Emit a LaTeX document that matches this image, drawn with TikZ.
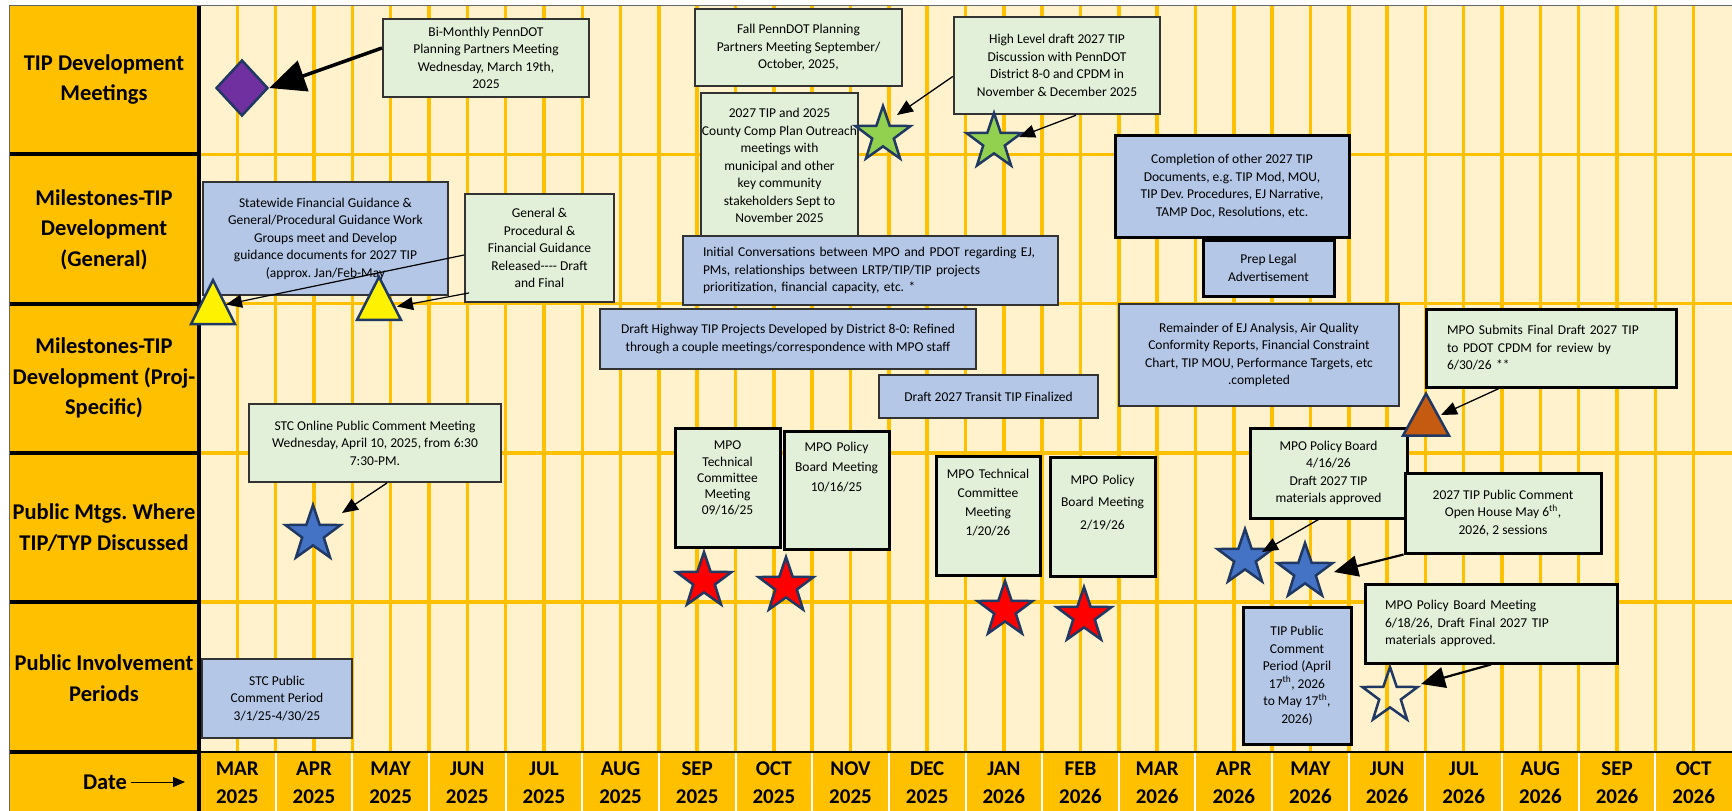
\documentclass[tikz,border=0pt]{standalone}
\usepackage{fontspec}
\setmainfont{Carlito}
\usetikzlibrary{arrows.meta,shapes.geometric}
\frenchspacing

\definecolor{gridgold}{HTML}{FFC000}
\definecolor{cream}{HTML}{FFF2CC}
\definecolor{notegreen}{HTML}{E2F0D9}
\definecolor{noteblue}{HTML}{B4C7E7}
\definecolor{markedge}{HTML}{203864}
\definecolor{purplemark}{HTML}{7030A0}
\definecolor{greenmark}{HTML}{92D050}
\definecolor{bluemark}{HTML}{4472C4}
\definecolor{redmark}{HTML}{FF0000}
\definecolor{rustmark}{HTML}{C55A11}

\tikzset{
  gridline/.style = {
    draw=gridgold,
    line width=3.5pt
  },
  rowlabel/.style = {
    align=center,
    font={\fontsize{22.5}{30.5}\selectfont\bfseries}
  },
  monthlabel/.style = {
    align=center,
    font={\fontsize{21}{28}\selectfont\bfseries}
  },
  note/.style = {
    draw=black!80,
    line width=1.5pt,
    inner sep=2pt,
    align=center,
    font={\fontsize{13.5}{17.5}\selectfont}
  },
  greennote/.style = {note, fill=notegreen},
  bluenote/.style = {note, fill=noteblue},
  heavy/.style = {
    draw=black,
    line width=3pt
  },
  chartmark/.style = {
    draw=markedge,
    line width=2.5pt,
    inner sep=0pt
  },
  starmark/.style = {
    chartmark, star, star points=5, star point ratio=2.55,
    minimum size=58pt
  },
  trimark/.style = {
    chartmark, isosceles triangle, isosceles triangle stretches,
    shape border rotate=90
  },
  pointer/.style = {
    draw=black,
    line width=1.3pt,
    -{Triangle[length=16pt,width=13pt]}
  },
  bigpointer/.style = {
    draw=black,
    line width=2.2pt,
    -{Triangle[length=24pt,width=21pt]}
  },
  hugepointer/.style = {
    draw=black,
    line width=3.5pt,
    -{Triangle[length=36pt,width=32pt]}
  },
}

\begin{document}
\begin{tikzpicture}[x=1pt,y=-1pt]

  \useasboundingbox (0,0) rectangle (1732,811);

  % chart background
  \fill[cream] (199,5) rectangle (1732,751.5);
  \fill[gridgold] (9,5) rectangle (199,811);
  \fill[gridgold] (199,751.5) rectangle (1732,811);

  % half month grid
  \foreach \k in {1,...,39} {
    \draw[gridline] ({199+38.325*\k},5) -- ({199+38.325*\k},751.5);
  }
  \foreach \k in {1,...,4} {
    \draw[gridline] (199,{5+149.3*\k}) -- (1732,{5+149.3*\k});
    \draw[black,line width=4pt] (9,{5+149.3*\k}) -- (199,{5+149.3*\k});
  }
  \foreach \m in {1,...,19} {
    \draw[white,line width=2pt] ({199+76.65*\m},752.5) -- ({199+76.65*\m},811);
  }
  \draw[black,line width=2pt] (199,751.5) -- (1732,751.5);
  \draw[black,line width=4pt] (9,751.5) -- (199,751.5);
  \draw[black,line width=3.5pt] (199,5) -- (199,811);
  \draw[black!60,line width=1pt] (9,5) -- (1732,5);
  \draw[black!60,line width=1pt] (9,5) -- (9,811);

  % row labels
  \node[rowlabel] (rowmeet) at (104,79.6) {TIP Development\\Meetings};
  \node[rowlabel] (rowgeneral) at (104,229.5) {Milestones-TIP\\Development\\(General)};
  \node[rowlabel] (rowproj) at (104,378.3) {Milestones-TIP\\Development (Proj-\\Specific)};
  \node[rowlabel] (rowpublic) at (104,527.6) {Public Mtgs. Where\\TIP/TYP Discussed};
  \node[rowlabel] (rowperiods) at (104,678) {Public Involvement\\Periods};
  \node[rowlabel] (datelabel) at (105,782) {Date};
  \coordinate (datetip) at (185,782);
  \draw[line width=1pt,-{Triangle[length=12pt,width=10pt]}] (datelabel.east) -- (datetip);

  % months
  \foreach \mon/\yr [count=\i from 0] in {
    MAR/2025, APR/2025, MAY/2025, JUN/2025, JUL/2025,
    AUG/2025, SEP/2025, OCT/2025, NOV/2025, DEC/2025,
    JAN/2026, FEB/2026, MAR/2026, APR/2026, MAY/2026,
    JUN/2026, JUL/2026, AUG/2026, SEP/2026, OCT/2026} {
    \node[monthlabel] (month\i) at ({199+76.65*(\i+0.5)},783) {\mon\\\yr};
  }

  % TIP development meetings
  \node[greennote, line width=2pt, minimum width=206pt, minimum height=78pt] (bimonthly) at (486,58)
    {Bi-Monthly PennDOT\\Planning Partners Meeting\\Wednesday, March 19th,\\2025};
  \node[greennote, line width=2pt, minimum width=207pt, minimum height=77pt] (fallmtg) at (798.5,47.5)
    {Fall PennDOT Planning\\Partners Meeting September/\\October, 2025,};
  \node[greennote, line width=2pt, inner sep=0.5pt, minimum width=155pt, minimum height=145pt] (outreach) at (779.5,165.5)
    {2027 TIP and 2025\\County Comp Plan Outreach\\meetings with\\municipal and other\\key community\\stakeholders Sept to\\November 2025};
  \node[greennote, line width=2.5pt, minimum width=206pt, minimum height=97pt] (highlvl) at (1057,65.5)
    {High Level draft 2027 TIP\\Discussion with PennDOT\\District 8-0 and CPDM in\\November \& December 2025};

  % milestones, general
  \node[bluenote, minimum width=245pt, minimum height=113pt] (statewide) at (325.5,238.5)
    {Statewide Financial Guidance \&\\General/Procedural Guidance Work\\Groups meet and Develop\\guidance documents for 2027 TIP\\(approx. Jan/Feb-May};
  \node[greennote, line width=1.8pt, minimum width=149pt, minimum height=108pt] (genl) at (539.5,248)
    {General \&\\Procedural \&\\Financial Guidance\\Released-{}-{}-{}- Draft\\and Final};
  \node[bluenote, line width=2pt, align=left, text width=335pt, inner xsep=20pt, minimum height=69pt] (initconv) at (870.5,270.5)
    {Initial Conversations between MPO and PDOT regarding EJ,\\PMs, relationships between LRTP/TIP/TIP projects\\prioritization, financial capacity, etc. *};
  \node[bluenote, heavy, minimum width=234pt, minimum height=102pt] (completion) at (1232,186)
    {Completion of other 2027 TIP\\Documents, e.g. TIP Mod, MOU,\\TIP Dev. Procedures, EJ Narrative,\\TAMP Doc, Resolutions, etc.};
  \node[bluenote, heavy, minimum width=131pt, minimum height=56pt] (preplegal) at (1268.5,268)
    {Prep Legal\\Advertisement};

  % milestones, project specific
  \node[bluenote, minimum width=376pt, minimum height=60pt] (highway) at (788,339)
    {Draft Highway TIP Projects Developed by District 8-0: Refined\\through a couple meetings/correspondence with MPO staff};
  \node[bluenote, minimum width=219pt, minimum height=43pt] (transit) at (988.5,396.5)
    {Draft 2027 Transit TIP Finalized};
  \node[bluenote, minimum width=280pt, minimum height=102pt] (remainder) at (1259,355)
    {Remainder of EJ Analysis, Air Quality\\Conformity Reports, Financial Constraint\\Chart, TIP MOU, Performance Targets, etc\\.completed};
  \node[greennote, heavy, align=left, text width=208pt, inner xsep=21pt, minimum height=78pt] (submit) at (1551,348)
    {MPO Submits Final Draft 2027 TIP\\to PDOT CPDM for review by\\6/30/26 **};

  % public meetings
  \node[greennote, line width=2pt, minimum width=252pt, minimum height=78pt] (stcmeet) at (375,443)
    {STC Online Public Comment Meeting\\Wednesday, April 10, 2025, from 6:30\\7:30-PM.};
  \node[greennote, heavy, text width=101pt, text depth=84pt, minimum height=119pt, font={\fontsize{13.5}{16.2}\selectfont}] (tech0916) at (727.5,487.5)
    {MPO\\Technical\\Committee\\Meeting\\09/16/25};
  \node[greennote, heavy, text width=101pt, text depth=87pt, minimum height=118pt, font={\fontsize{13.5}{20}\selectfont}] (pol1016) at (836.5,490)
    {MPO Policy\\Board Meeting\\10/16/25};
  \node[greennote, heavy, text width=100pt, text depth=83pt, minimum height=119pt, font={\fontsize{13.5}{19}\selectfont}] (tech0120) at (988,515.5)
    {MPO Technical\\Committee\\Meeting\\1/20/26};
  \node[greennote, heavy, text width=101pt, text depth=74pt, minimum height=119pt, font={\fontsize{13.5}{22.5}\selectfont}] (pol0219) at (1102.5,516.5)
    {MPO Policy\\Board Meeting\\2/19/26};
  \node[greennote, heavy, minimum width=157pt, minimum height=90pt] (pb0416) at (1328.5,473)
    {MPO Policy Board\\4/16/26\\Draft 2027 TIP\\materials approved};
  \node[greennote, heavy, minimum width=196pt, minimum height=80pt] (openhouse) at (1503,513)
    {2027 TIP Public Comment\\Open House May 6\textsuperscript{th},\\2026, 2 sessions};

  % public involvement periods
  \node[bluenote, minimum width=150pt, minimum height=79pt] (stcperiod) at (277,698.5)
    {STC Public\\Comment Period\\3/1/25-4/30/25};
  \node[bluenote, heavy, minimum width=108pt, minimum height=137pt] (tipperiod) at (1297,675.5)
    {TIP Public\\Comment\\Period (April\\17\textsuperscript{th}, 2026\\to May 17\textsuperscript{th},\\2026)};
  \node[greennote, heavy, align=left, text width=212pt, inner xsep=20pt, minimum height=79pt] (pb0618) at (1491,623.5)
    {MPO Policy Board Meeting\\6/18/26, Draft Final 2027 TIP\\materials approved.};

  % markers
  \node[chartmark, diamond, fill=purplemark, minimum width=52pt, minimum height=56pt] (ppmdiamond) at (242,88) {};
  \node[trimark, fill=yellow, minimum width=44pt, minimum height=44pt] (triA) at (213,310.5) {};
  \node[trimark, fill=yellow, minimum width=44pt, minimum height=43pt] (triB) at (379,306.5) {};
  \node[trimark, fill=rustmark, minimum width=46pt, minimum height=42pt] (rusttri) at (1426,422) {};
  \foreach \name/\cx/\cy/\col in {
    gstarA/883/135/greenmark,
    gstarB/994/142/greenmark,
    bstarA/313/534/bluemark,
    rstarA/704/581/redmark,
    rstarB/786/586/redmark,
    rstarC/1005/610/redmark,
    rstarD/1084/616/redmark,
    bstarB/1245/558/bluemark,
    bstarC/1305/572/bluemark,
    wstar/1390/696/none} {
    \node[starmark, fill=\col] (\name) at (\cx,\cy) {};
  }

  % call-out arrows
  \draw[hugepointer] ([yshift=10pt]bimonthly.west) -- (ppmdiamond.east);
  \draw[pointer] ([yshift=-11pt]highlvl.west) -- ([shift={(14,-20)}]gstarA.center);
  \draw[pointer] ([xshift=19pt]highlvl.south) -- ([shift={(25,-5)}]gstarB.center);
  \draw[pointer, line width=1.2pt] ([yshift=-7pt]genl.west) -- ([shift={(13,-6)}]triA.center);
  \draw[pointer, line width=1.2pt] ([shift={(5,-10)}]genl.south west) -- ([shift={(18,0)}]triB.center);
  \draw[pointer] ([xshift=12pt]stcmeet.south) -- ([shift={(29,-21)}]bstarA.center);
  \draw[pointer] ([xshift=-52pt]submit.south) -- ([shift={(15,-7)}]rusttri.center);
  \draw[pointer] ([xshift=-10pt]pb0416.south) -- ([shift={(17,-6)}]bstarB.center);
  \draw[bigpointer] (openhouse.south west) -- ([shift={(29,0)}]bstarC.center);
  \draw[bigpointer] (pb0618.south) -- ([shift={(31,-12)}]wstar.center);

\end{tikzpicture}
\end{document}
